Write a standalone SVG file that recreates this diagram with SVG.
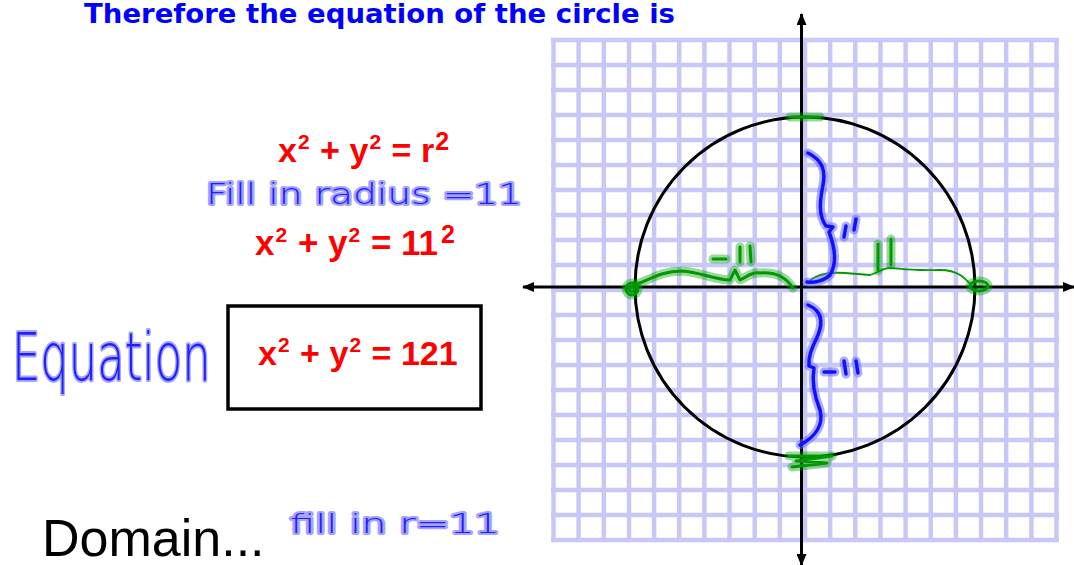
<svg xmlns="http://www.w3.org/2000/svg" width="1074" height="565" viewBox="0 0 1074 565">
<style>
.grid line{stroke:#c8c8f8;stroke-width:4.5}
.axis{stroke:#000;stroke-width:3;fill:none}
.red{font-family:"Liberation Sans",Arial,sans-serif;font-weight:bold;fill:#ff0000;font-size:34px}
.r35{font-size:35px}
.sup{font-size:21px}
.sup2{font-size:25px}
.hand{font-family:"DejaVu Sans","Noto Sans",sans-serif;font-weight:200;fill:#1e1eff;stroke:#a4a4ff;stroke-width:4;stroke-linejoin:round;paint-order:stroke}
.gh{fill:none;stroke:#00a000;stroke-opacity:0.4;stroke-width:9;stroke-linecap:round;stroke-linejoin:round}
.gc{fill:none;stroke:#009a00;stroke-width:3;stroke-linecap:round;stroke-linejoin:round}
.bh{fill:none;stroke:#6a6aff;stroke-opacity:0.55;stroke-width:9;stroke-linecap:round;stroke-linejoin:round}
.bc{fill:none;stroke:#1010ff;stroke-width:3.5;stroke-linecap:round;stroke-linejoin:round}
</style>
<defs>
<marker id="ah" viewBox="0 0 12 10" refX="11" refY="5" markerWidth="12" markerHeight="10" markerUnits="userSpaceOnUse" orient="auto">
<path d="M0,0 L12,5 L0,10 Z" fill="#000"/>
</marker>
</defs>
<rect width="1074" height="565" fill="#fff"/>
<g id="title">
<text x="84" y="23" font-family="'DejaVu Sans',Verdana,sans-serif" font-weight="bold" font-size="27" fill="#0000ff" textLength="591" lengthAdjust="spacingAndGlyphs">Therefore the equation of the circle is</text>
</g>
<g id="grid" class="grid">
<line x1="553.5" y1="38" x2="553.5" y2="542"/>
<line x1="578.6" y1="38" x2="578.6" y2="542"/>
<line x1="603.8" y1="38" x2="603.8" y2="542"/>
<line x1="629" y1="38" x2="629" y2="542"/>
<line x1="654.1" y1="38" x2="654.1" y2="542"/>
<line x1="679.2" y1="38" x2="679.2" y2="542"/>
<line x1="704.4" y1="38" x2="704.4" y2="542"/>
<line x1="729.5" y1="38" x2="729.5" y2="542"/>
<line x1="754.7" y1="38" x2="754.7" y2="542"/>
<line x1="779.8" y1="38" x2="779.8" y2="542"/>
<line x1="805" y1="38" x2="805" y2="542"/>
<line x1="830.2" y1="38" x2="830.2" y2="542"/>
<line x1="855.3" y1="38" x2="855.3" y2="542"/>
<line x1="880.5" y1="38" x2="880.5" y2="542"/>
<line x1="905.6" y1="38" x2="905.6" y2="542"/>
<line x1="930.8" y1="38" x2="930.8" y2="542"/>
<line x1="955.9" y1="38" x2="955.9" y2="542"/>
<line x1="981" y1="38" x2="981" y2="542"/>
<line x1="1006.2" y1="38" x2="1006.2" y2="542"/>
<line x1="1031.4" y1="38" x2="1031.4" y2="542"/>
<line x1="1056.5" y1="38" x2="1056.5" y2="542"/>
<line x1="551" y1="40" x2="1059" y2="40"/>
<line x1="551" y1="65" x2="1059" y2="65"/>
<line x1="551" y1="90" x2="1059" y2="90"/>
<line x1="551" y1="115" x2="1059" y2="115"/>
<line x1="551" y1="140" x2="1059" y2="140"/>
<line x1="551" y1="165" x2="1059" y2="165"/>
<line x1="551" y1="190" x2="1059" y2="190"/>
<line x1="551" y1="215" x2="1059" y2="215"/>
<line x1="551" y1="240" x2="1059" y2="240"/>
<line x1="551" y1="265" x2="1059" y2="265"/>
<line x1="551" y1="290" x2="1059" y2="290"/>
<line x1="551" y1="315" x2="1059" y2="315"/>
<line x1="551" y1="340" x2="1059" y2="340"/>
<line x1="551" y1="365" x2="1059" y2="365"/>
<line x1="551" y1="390" x2="1059" y2="390"/>
<line x1="551" y1="415" x2="1059" y2="415"/>
<line x1="551" y1="440" x2="1059" y2="440"/>
<line x1="551" y1="465" x2="1059" y2="465"/>
<line x1="551" y1="490" x2="1059" y2="490"/>
<line x1="551" y1="515" x2="1059" y2="515"/>
<line x1="551" y1="540" x2="1059" y2="540"/>
</g>
<g id="connectors">
<line class="axis" x1="800" y1="287" x2="523" y2="287" marker-end="url(#ah)"/>
<line class="axis" x1="800" y1="287" x2="1074" y2="287" marker-end="url(#ah)"/>
<line class="axis" x1="801.5" y1="287" x2="801.5" y2="14" marker-end="url(#ah)"/>
<line class="axis" x1="801.5" y1="287" x2="801.5" y2="565" marker-end="url(#ah)"/>
</g>
<g id="circle">
<circle cx="805" cy="287" r="170" fill="none" stroke="#000" stroke-width="3"/>
</g>
<g id="green-marks">
<path class="gh" d="M627,288 C650,280 660,271 682,271 C700,272 715,280 730,280 L735,270 L740,280 C748,276 752,272 760,273 C775,272 785,276 793,288"/>
<path class="gc" d="M627,288 C650,280 660,271 682,271 C700,272 715,280 730,280 L735,270 L740,280 C748,276 752,272 760,273 C775,272 785,276 793,288"/>
<circle class="gh" cx="632" cy="289" r="6"/>
<circle class="gc" cx="632" cy="289" r="6"/>
<circle class="gc" cx="632" cy="289" r="2.5"/>
<path d="M808,283 C815,274 830,272 845,273 L870,275 C878,273 882,268 890,268 C900,268 905,271 940,270 C958,270 965,278 972,286" fill="none" stroke="#009a00" stroke-width="1.8"/>
<ellipse class="gh" cx="979" cy="286" rx="9" ry="5"/>
<ellipse class="gc" cx="979" cy="286" rx="9" ry="5"/>
<path class="gh" d="M790,117 L820,117"/>
<path class="gc" d="M790,117 L820,117"/>
<path class="gh" d="M789,456 L832,456 L796,461 L827,463 L792,467"/>
<path class="gc" d="M789,456 L832,456 L796,461 L827,463 L792,467"/>
<path class="gh" d="M878,244 L878,271 M891,239 L891,265"/>
<path class="gc" d="M878,244 L878,271 M891,239 L891,265"/>
<path class="gh" d="M713,259 L726,259 M740,247 L740,262 M750,246 L751,262"/>
<path class="gc" d="M713,259 L726,259 M740,247 L740,262 M750,246 L751,262"/>
</g>
<g id="blue-braces">
<path class="bh" d="M808,153 C822,160 826,170 823,185 C820,200 818,215 826,226 L833,227 L829,232 C834,245 838,262 830,275 C824,281 814,283 807,282"/>
<path class="bc" d="M808,153 C822,160 826,170 823,185 C820,200 818,215 826,226 L833,227 L829,232 C834,245 838,262 830,275 C824,281 814,283 807,282"/>
<path class="bh" d="M846,226 L844,237 M856,219 L854,230"/>
<path class="bc" d="M846,226 L844,237 M856,219 L854,230"/>
<path class="bh" d="M808,305 C820,310 824,320 818,335 C812,348 808,356 809,366 L814,368 C812,380 814,395 820,410 C824,425 815,437 800,445"/>
<path class="bc" d="M808,305 C820,310 824,320 818,335 C812,348 808,356 809,366 L814,368 C812,380 814,395 820,410 C824,425 815,437 800,445"/>
<path class="bh" d="M824,372 L835,372 M844,361 L846,374 M856,361 L858,373"/>
<path class="bc" d="M824,372 L835,372 M844,361 L846,374 M856,361 L858,373"/>
</g>
<g id="eq1">
<text class="red" x="278" y="162">x</text>
<text class="red sup" x="297.9" y="149">2</text>
<text class="red" x="320.1" y="162">+ y</text>
<text class="red sup" x="369.4" y="149">2</text>
<text class="red" x="391.6" y="162">= r</text>
<text class="red sup2" x="435.2" y="150">2</text>
</g>
<g id="fill-radius">
<text class="hand" x="206" y="204" font-size="28" textLength="316" lengthAdjust="spacingAndGlyphs">Fill in radius =11</text>
</g>
<g id="eq2">
<text class="red r35" x="255" y="255">x</text>
<text class="red sup" x="275.5" y="242">2</text>
<text class="red r35" x="297.9" y="255">+ y</text>
<text class="red sup" x="348.5" y="242">2</text>
<text class="red r35" x="370.9" y="255">= 11</text>
<text class="red sup2" x="441" y="243">2</text>
</g>
<g id="equation-label">
<text class="hand" transform="translate(12,380) scale(0.68,1)" x="0" y="0" font-size="66">Equation</text>
</g>
<g id="answer-box">
<rect x="228" y="306" width="253" height="103" fill="none" stroke="#000" stroke-width="3.5"/>
<text class="red" x="258" y="365">x</text>
<text class="red sup" x="277.9" y="352">2</text>
<text class="red" x="300.1" y="365">+ y</text>
<text class="red sup" x="349.4" y="352">2</text>
<text class="red" x="371.6" y="365">= 121</text>
</g>
<g id="domain">
<text x="42" y="556" font-family="'Liberation Sans',Arial,sans-serif" font-size="52" fill="#000">Domain...</text>
</g>
<g id="fill-r">
<text class="hand" x="290" y="533" font-size="27" textLength="210" lengthAdjust="spacingAndGlyphs">fill in r=11</text>
</g>
</svg>
